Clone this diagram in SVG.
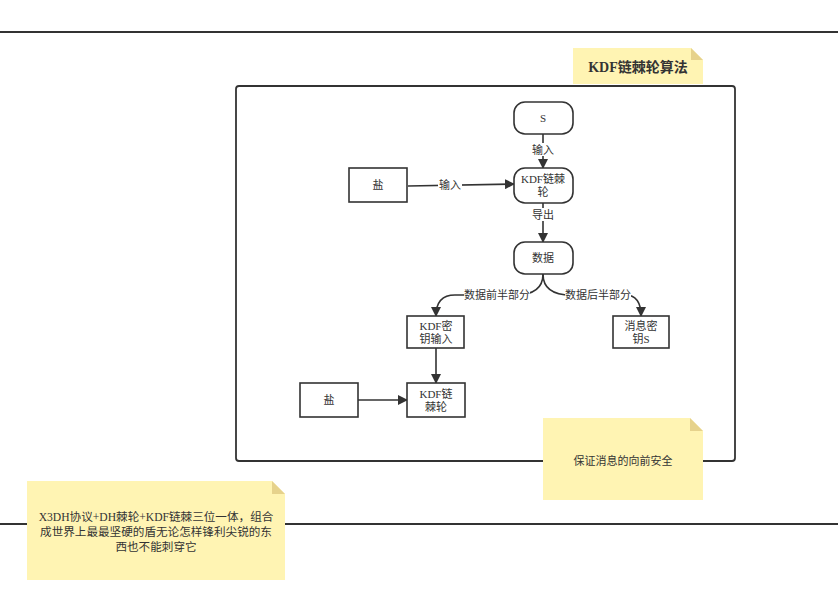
<svg xmlns="http://www.w3.org/2000/svg" width="838" height="605" viewBox="0 0 838 605">
<defs>
<marker id="ah" viewBox="0 0 10 10" refX="9" refY="5" markerWidth="10" markerHeight="10" markerUnits="userSpaceOnUse" orient="auto">
<path d="M0,0 L10,5 L0,10 z" fill="#333"/>
</marker>
<style>
.t{font-family:"Liberation Serif","Noto Sans CJK SC",serif;font-size:11px;fill:#333;text-anchor:middle;dominant-baseline:central}
.n{fill:#fff;stroke:#333;stroke-width:1.6}
.c{fill:none;stroke:#333;stroke-width:1.6;marker-end:url(#ah)}
.lb{fill:#fff}
.note{fill:#fff4b3}
.fold{fill:#e6d28c}
.sep{stroke:#333;stroke-width:2}
</style>
</defs>
<rect width="838" height="605" fill="#fff"/>
<g id="separators">
<line class="sep" x1="0" y1="32" x2="838" y2="32"/>
<line class="sep" x1="0" y1="524" x2="838" y2="524"/>
</g>
<g id="frame">
<rect x="236" y="86" width="499" height="375" rx="3" fill="none" stroke="#333" stroke-width="1.8"/>
</g>
<g id="connectors">
<path class="c" d="M543,134 L543,168"/>
<rect class="lb" x="532" y="143" width="22" height="13"/>
<text class="t" x="543" y="150">输入</text>
<path class="c" d="M408,186 L514,184"/>
<rect class="lb" x="438" y="178" width="24" height="13"/>
<text class="t" x="450" y="185">输入</text>
<path class="c" d="M543,203 L543,242"/>
<rect class="lb" x="532" y="208" width="22" height="13"/>
<text class="t" x="543" y="215">导出</text>
<path class="c" d="M543,274 Q543,295 515,295 L455,295 Q436,295 436,316"/>
<rect class="lb" x="464" y="288" width="66" height="14"/>
<text class="t" x="497" y="295">数据前半部分</text>
<path class="c" d="M543,274 Q543,295 571,295 L625,295 Q641,295 641,316"/>
<rect class="lb" x="565" y="288" width="66" height="14"/>
<text class="t" x="598" y="295">数据后半部分</text>
<path class="c" d="M436,348 L436,383"/>
<path class="c" d="M358,400 L407,400"/>
</g>
<g id="node-s">
<rect class="n" x="514" y="102" width="59" height="32" rx="11"/>
<text class="t" x="543" y="118">S</text>
</g>
<g id="node-kdf1">
<rect class="n" x="514" y="168" width="59" height="35" rx="11"/>
<text class="t" x="543" y="179">KDF链棘</text>
<text class="t" x="543" y="192">轮</text>
</g>
<g id="node-salt1">
<rect class="n" x="349" y="168" width="58" height="34"/>
<text class="t" x="378" y="185">盐</text>
</g>
<g id="node-data">
<rect class="n" x="514" y="242" width="59" height="32" rx="11"/>
<text class="t" x="543" y="258">数据</text>
</g>
<g id="node-kdfin">
<rect class="n" x="407" y="316" width="57" height="32"/>
<text class="t" x="436" y="326">KDF密</text>
<text class="t" x="436" y="339">钥输入</text>
</g>
<g id="node-msgkey">
<rect class="n" x="613" y="316" width="56" height="32"/>
<text class="t" x="641" y="326">消息密</text>
<text class="t" x="641" y="339">钥S</text>
</g>
<g id="node-kdf2">
<rect class="n" x="407" y="383" width="58" height="34"/>
<text class="t" x="436" y="394">KDF链</text>
<text class="t" x="436" y="407">棘轮</text>
</g>
<g id="node-salt2">
<rect class="n" x="300" y="383" width="58" height="34"/>
<text class="t" x="329" y="400">盐</text>
</g>
<g id="note-title">
<path class="note" d="M573,48 L691,48 L703,60 L703,84 L573,84 z"/>
<path class="fold" d="M691,48 L703,60 L691,60 z"/>
<text class="t" x="638" y="67" style="font-size:14px;font-weight:bold">KDF链棘轮算法</text>
</g>
<g id="note-forward">
<path class="note" d="M543,418 L690,418 L703,431 L703,500 L543,500 z"/>
<path class="fold" d="M690,418 L703,431 L690,431 z"/>
<text class="t" x="623" y="461">保证消息的向前安全</text>
</g>
<g id="note-x3dh">
<path class="note" d="M27,481 L272,481 L285,494 L285,580 L27,580 z"/>
<path class="fold" d="M272,481 L285,494 L272,494 z"/>
<text class="t" x="156" y="517" style="font-size:11.6px">X3DH协议+DH棘轮+KDF链棘三位一体，组合</text>
<text class="t" x="156" y="532" style="font-size:11.6px">成世界上最最坚硬的盾无论怎样锋利尖锐的东</text>
<text class="t" x="156" y="547" style="font-size:11.6px">西也不能刺穿它</text>
</g>
</svg>
